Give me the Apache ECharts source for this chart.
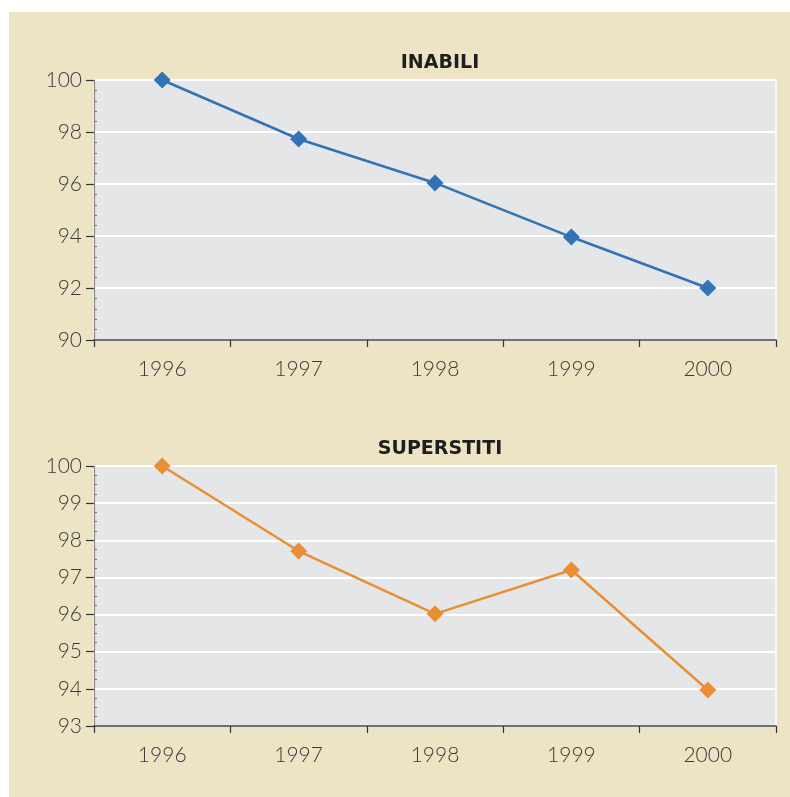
<!DOCTYPE html>
<html>
<head>
<meta charset="utf-8">
<script src="https://cdn.jsdelivr.net/npm/echarts@6/dist/echarts.min.js"></script>
<style>
  html, body { margin: 0; padding: 0; background: #fff; }
  #chart { width: 790px; height: 797px; }
</style>
</head>
<body>
<div id="chart"></div>
<script>
// data
var years = ['1996', '1997', '1998', '1999', '2000']
var inabili = [100, 97.73, 96.04, 93.96, 92.0]
var superstiti = [100, 97.71, 96.02, 97.2, 93.97]

var labelFont = { fontFamily: 'Lato', fontWeight: 300, fontSize: 21, color: '#3a3a3a' }

function xAxisFor (grid) {
  return {
    type: 'category',
    gridIndex: grid,
    data: years,
    boundaryGap: true,
    axisLine: { lineStyle: { color: '#444', width: 1.5 } },
    axisTick: { show: true, length: 7, alignWithLabel: false, lineStyle: { color: '#333', width: 1.2 } },
    axisLabel: Object.assign({ margin: 19 }, labelFont),
    splitLine: { show: false }
  }
}

function yAxisFor (grid, min, max, step, minorSplit) {
  return [{
    type: 'value',
    gridIndex: grid,
    min: min,
    max: max,
    interval: step,
    axisLine: { show: true, lineStyle: { color: '#888', width: 1.2 } },
    axisTick: { show: true, length: 8, lineStyle: { color: '#333', width: 1.2 } },
    axisLabel: Object.assign({ margin: 12 }, labelFont),
    splitLine: { show: true, lineStyle: { color: '#fff', width: 2 } }
  }, {
    // only here to draw the small inside ticks
    type: 'value',
    gridIndex: grid,
    position: 'left',
    min: min,
    max: max,
    interval: step,
    axisLine: { show: false },
    axisTick: { show: false, inside: true },
    minorTick: { show: true, splitNumber: minorSplit, length: 3, lineStyle: { color: '#777', width: 1 } },
    axisLabel: { show: false },
    splitLine: { show: false }
  }]
}

var chart = echarts.init(document.getElementById('chart'))

var option = {
  backgroundColor: '#fff',
  animation: false,
  graphic: [{
    type: 'rect',
    z: -10,
    shape: { x: 9, y: 12, width: 781, height: 785 },
    style: { fill: '#ede3c5' }
  }],
  title: [
    { text: 'INABILI', left: 435, top: 49, textAlign: 'center',
      textStyle: { fontFamily: 'DejaVu Sans', fontWeight: 'bold', fontSize: 19, color: '#1e1e1e' } },
    { text: 'SUPERSTITI', left: 435, top: 435, textAlign: 'center',
      textStyle: { fontFamily: 'DejaVu Sans', fontWeight: 'bold', fontSize: 19, color: '#1e1e1e' } }
  ],
  grid: [
    { left: 94, top: 80, width: 682, height: 260, show: true, backgroundColor: '#e5e6e8', borderColor: '#fff', borderWidth: 1.5 },
    { left: 94, top: 466, width: 682, height: 260, show: true, backgroundColor: '#e5e6e8', borderColor: '#fff', borderWidth: 1.5 }
  ],
  xAxis: [xAxisFor(0), xAxisFor(1)],
  yAxis: yAxisFor(0, 90, 100, 2, 5).concat(yAxisFor(1, 93, 100, 1, 4)),
  series: [
    {
      name: 'INABILI',
      type: 'line',
      xAxisIndex: 0,
      yAxisIndex: 0,
      data: inabili,
      symbol: 'diamond',
      symbolSize: 17,
      lineStyle: { color: '#3173b4', width: 2.5 },
      itemStyle: { color: '#3173b4' }
    },
    {
      name: 'SUPERSTITI',
      type: 'line',
      xAxisIndex: 1,
      yAxisIndex: 2,
      data: superstiti,
      symbol: 'diamond',
      symbolSize: 17,
      lineStyle: { color: '#e88f35', width: 2.5 },
      itemStyle: { color: '#e88f35' }
    }
  ]
}

chart.setOption(option)
</script>
</body>
</html>
